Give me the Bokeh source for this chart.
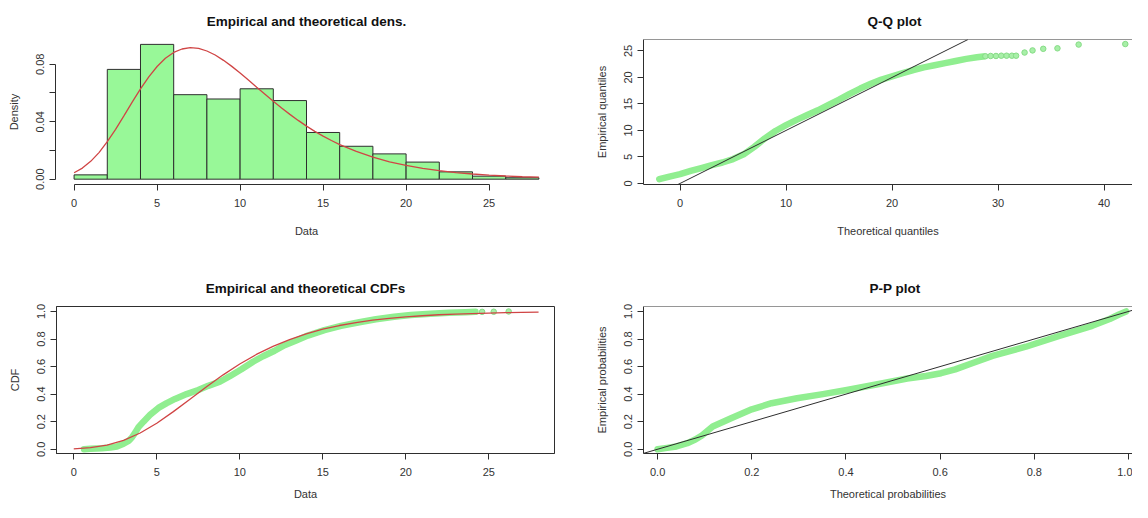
from bokeh.plotting import figure
from bokeh.models import Range1d, FixedTicker, NumeralTickFormatter, Span, Slope
from bokeh.layouts import column, row
from bokeh.embed import file_html
from bokeh.resources import INLINE

# ---------------- data ----------------
# histogram (density scale), breaks every 2 units
hist_left = [0, 2, 4, 6, 8, 10, 12, 14, 16, 18, 20, 22, 24, 26]
hist_right = [2, 4, 6, 8, 10, 12, 14, 16, 18, 20, 22, 24, 26, 28]
hist_density = [0.0030, 0.0764, 0.0938, 0.0588, 0.0558, 0.0629, 0.0547,
                 0.0325, 0.0229, 0.0176, 0.0119, 0.0051, 0.0021, 0.0010]

# theoretical density curve
dens_x = [0, 0.5, 1, 1.5, 2, 2.5, 3, 3.5, 4, 4.5, 5, 5.5, 6, 6.5, 7, 7.5, 8,
          8.5, 9, 9.5, 10, 10.5, 11, 11.5, 12, 12.5, 13, 13.5, 14, 14.5, 15,
          15.5, 16, 17, 18, 19, 20, 21, 22, 23, 24, 25, 26, 27, 28]
dens_y = [0.0045, 0.0077, 0.0124, 0.0185, 0.0261, 0.0347, 0.0441, 0.0536,
          0.0628, 0.0712, 0.0784, 0.0841, 0.0882, 0.0906, 0.0915, 0.0910,
          0.0892, 0.0864, 0.0827, 0.0785, 0.0739, 0.0690, 0.0640, 0.0591,
          0.0542, 0.0495, 0.0451, 0.0409, 0.0369, 0.0333, 0.0300, 0.0269,
          0.0241, 0.0193, 0.0153, 0.0121, 0.0096, 0.0075, 0.0059, 0.0046,
          0.0036, 0.0028, 0.0022, 0.0017, 0.0014]

# Q-Q plot: theoretical vs empirical quantiles
qq_band_x = [-1.96, -1.0, 0, 1, 2, 3, 4, 5, 6, 7, 7.5, 8, 9, 10, 11, 12, 13, 14,
             15, 16, 17, 18, 19, 20, 21, 22, 23, 24, 25, 26, 27, 28, 28.6]
qq_band_y = [0.8, 1.3, 1.75, 2.35, 2.9, 3.45, 3.95, 4.6, 5.5, 6.9, 7.7, 8.5,
             9.9, 11.0, 12.0, 12.9, 13.8, 14.8, 15.8, 16.9, 17.9, 18.8, 19.6,
             20.2, 20.8, 21.4, 21.9, 22.3, 22.7, 23.1, 23.5, 23.8, 23.95]
qq_tail_x = [28.8, 29.3, 29.8, 30.3, 30.8, 31.3, 31.7, 32.5, 33.25, 34.26,
             35.6, 37.6, 42.0]
qq_tail_y = [24.0, 24.05, 24.05, 24.1, 24.1, 24.1, 24.1, 24.7, 25.1, 25.4,
             25.5, 26.2, 26.3]

# empirical CDF
ecdf_x = [0.62, 1.0, 1.7, 2.2, 2.6, 3.0, 3.3, 3.5, 3.7, 3.9, 4.2, 4.6, 5.1, 5.6,
          6.1, 6.8, 7.5, 8.1, 8.8, 9.4, 10.1, 10.8, 11.4, 12.1, 12.7, 13.4,
          14.1, 15.1, 16.1, 17.2, 18.2, 19.3, 20.3, 21.5, 22.6, 23.6, 24.2]
ecdf_y = [0.0, 0.003, 0.007, 0.012, 0.02, 0.04, 0.06, 0.085, 0.12, 0.16, 0.2,
          0.25, 0.30, 0.335, 0.365, 0.40, 0.43, 0.46, 0.49, 0.53, 0.58, 0.635,
          0.675, 0.715, 0.755, 0.79, 0.825, 0.865, 0.895, 0.922, 0.943, 0.962,
          0.974, 0.984, 0.99, 0.995, 0.997]
ecdf_tail_x = [24.6, 25.3, 26.2]
ecdf_tail_y = [0.997, 0.998, 1.0]

# theoretical CDF
cdf_x = [0, 1, 2, 3, 4, 5, 6, 7, 8, 9, 10, 11, 12, 13, 14, 15, 16, 17, 18, 19,
         20, 21, 22, 23, 24, 25, 26, 27, 28]
cdf_y = [0.0031, 0.0111, 0.0298, 0.0647, 0.118, 0.189, 0.273, 0.3635, 0.454,
         0.540, 0.619, 0.688, 0.747, 0.796, 0.8375, 0.871, 0.898, 0.919,
         0.9365, 0.950, 0.961, 0.969, 0.976, 0.981, 0.985, 0.9886, 0.991,
         0.993, 0.9946]

# P-P plot: theoretical vs empirical probabilities
pp_x = [0.0, 0.02, 0.04, 0.063, 0.08, 0.094, 0.117, 0.156, 0.2, 0.242, 0.296,
        0.351, 0.402, 0.467, 0.53, 0.57, 0.602, 0.632, 0.662, 0.711, 0.782,
        0.853, 0.923, 0.96, 0.98, 0.995]
pp_y = [0.0, 0.01, 0.02, 0.044, 0.07, 0.10, 0.165, 0.225, 0.29, 0.334, 0.37,
        0.40, 0.43, 0.472, 0.513, 0.532, 0.552, 0.58, 0.617, 0.678, 0.744,
        0.823, 0.896, 0.945, 0.978, 1.0]

# ---------------- styling ----------------
FONT = "Liberation Sans"
LINE = "#2e2e2e"
TEXT = "#333333"
GREEN_BAR = "#98F898"
GREEN_PT = "#90EE90"
RED = "#D04545"


def make_fig(w, h, xr, yr, left, right, top, bottom, title):
    p = figure(width=w, height=h, x_range=Range1d(*xr), y_range=Range1d(*yr),
               output_backend="svg", toolbar_location=None, title=title,
               min_border_left=left, min_border_right=right,
               min_border_top=top, min_border_bottom=bottom)
    p.grid.visible = False
    p.background_fill_color = "white"
    p.border_fill_color = "white"
    p.outline_line_color = None
    p.title.text_font = FONT
    p.title.text_font_size = "13.5px"
    p.title.text_font_style = "bold"
    p.title.text_color = "#111111"
    p.title.standoff = 22
    return p


def style_axis(ax, ticks, label, minor=None, fmt=None, vertical=False,
               label_standoff=8, axis_label_standoff=14, bounds=None):
    ax.ticker = FixedTicker(ticks=ticks, minor_ticks=minor or [])
    if fmt:
        ax.formatter = NumeralTickFormatter(format=fmt)
    if bounds is not None:
        ax.bounds = bounds
    ax.axis_label = label
    ax.axis_label_text_font = FONT
    ax.axis_label_text_font_size = "11px"
    ax.axis_label_text_font_style = "normal"
    ax.axis_label_text_color = TEXT
    ax.axis_label_standoff = axis_label_standoff
    ax.major_label_text_font = FONT
    ax.major_label_text_font_size = "11px"
    ax.major_label_text_color = TEXT
    ax.major_label_standoff = label_standoff
    ax.axis_line_color = LINE
    ax.axis_line_width = 1
    ax.major_tick_line_color = LINE
    ax.major_tick_out = 6
    ax.major_tick_in = 0
    if minor:
        ax.minor_tick_line_color = LINE
        ax.minor_tick_out = 6
        ax.minor_tick_in = 0
    else:
        ax.minor_tick_line_color = None
    if vertical:
        ax.major_label_orientation = "vertical"


# ---------------- panel 1: histogram + density ----------------
p1 = make_fig(566, 245, (-1.12, 29.12), (-0.0037, 0.0972), 55, 9, 37, 61,
              "Empirical and theoretical dens.")
p1.title.align = "center"
p1.quad(left=hist_left, right=hist_right, bottom=0, top=hist_density,
        fill_color=GREEN_BAR, line_color=LINE, line_width=1)
p1.line(dens_x, dens_y, line_color=RED, line_width=1.3)
style_axis(p1.xaxis[0], [0, 5, 10, 15, 20, 25], "Data", bounds=(0, 25),
           axis_label_standoff=15)
style_axis(p1.yaxis[0], [0, 0.04, 0.08], "Density", minor=[0.02, 0.06],
           fmt="0.00", vertical=True, label_standoff=5, axis_label_standoff=14,
           bounds=(0, 0.08))

# ---------------- panel 2: Q-Q plot ----------------
p2 = make_fig(566, 245, (-3.45, 42.68), (-0.2, 27.16), 77, 0, 37, 61, "Q-Q plot")
p2.title.align = "left"
p2.title.offset = 224
p2.line(qq_band_x, qq_band_y, line_color=GREEN_PT, line_width=6.5,
        line_cap="round", line_join="round")
p2.scatter(qq_tail_x, qq_tail_y, marker="circle", size=5.5,
           fill_color="#A8EFA8", line_color="#86DC86", line_width=1)
p2.add_layout(Slope(gradient=1, y_intercept=0, line_color=LINE, line_width=1))
p2.add_layout(Span(location=27.16, dimension="width", line_color=LINE, line_width=1))
style_axis(p2.xaxis[0], [0, 10, 20, 30, 40], "Theoretical quantiles",
           axis_label_standoff=15)
style_axis(p2.yaxis[0], [0, 5, 10, 15, 20, 25], "Empirical quantiles",
           vertical=True, label_standoff=5, axis_label_standoff=14)

# ---------------- panel 3: CDFs ----------------
p3 = make_fig(566, 257, (-1.04, 28.96), (-0.031, 1.036), 56, 12, 61, 49,
              "Empirical and theoretical CDFs")
p3.title.align = "center"
p3.outline_line_color = LINE
p3.outline_line_width = 1
p3.line(ecdf_x, ecdf_y, line_color=GREEN_PT, line_width=6.5,
        line_cap="round", line_join="round")
p3.scatter(ecdf_tail_x, ecdf_tail_y, marker="circle", size=5.5,
           fill_color="#A8EFA8", line_color="#86DC86", line_width=1)
p3.line(cdf_x, cdf_y, line_color=RED, line_width=1.3)
style_axis(p3.xaxis[0], [0, 5, 10, 15, 20, 25], "Data", axis_label_standoff=9)
style_axis(p3.yaxis[0], [0, 0.2, 0.4, 0.6, 0.8, 1.0], "CDF", fmt="0.0",
           vertical=True, label_standoff=5, axis_label_standoff=14)

# ---------------- panel 4: P-P plot ----------------
p4 = make_fig(566, 257, (-0.030, 1.0085), (-0.031, 1.036), 77, 0, 61, 49, "P-P plot")
p4.title.align = "left"
p4.title.offset = 226
p4.line(pp_x, pp_y, line_color=GREEN_PT, line_width=6.5,
        line_cap="round", line_join="round")
p4.add_layout(Slope(gradient=1, y_intercept=0, line_color=LINE, line_width=1))
p4.add_layout(Span(location=1.036, dimension="width", line_color=LINE, line_width=1))
style_axis(p4.xaxis[0], [0, 0.2, 0.4, 0.6, 0.8, 1.0], "Theoretical probabilities",
           fmt="0.0", axis_label_standoff=9)
style_axis(p4.yaxis[0], [0, 0.2, 0.4, 0.6, 0.8, 1.0], "Empirical probabilities",
           fmt="0.0", vertical=True, label_standoff=5, axis_label_standoff=14)

layout = column(row(p1, p2), row(p3, p4))
open("out.html", "w").write(file_html(layout, INLINE))
